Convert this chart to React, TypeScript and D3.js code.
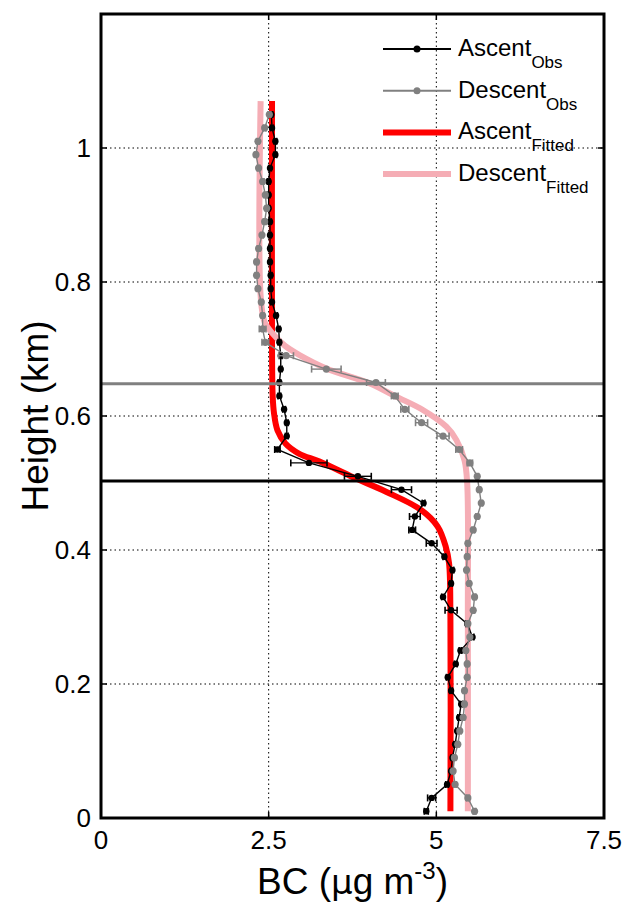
import React from 'react';
import * as d3 from 'd3';

// Observation heights (km)
const obsHeights = [
  0.01, 0.03, 0.05, 0.07, 0.09, 0.11, 0.13, 0.15, 0.17, 0.19,
  0.21, 0.23, 0.25, 0.27, 0.29, 0.31, 0.33, 0.35, 0.37, 0.39,
  0.41, 0.43, 0.45, 0.47, 0.49, 0.51, 0.53, 0.55, 0.57, 0.59,
  0.61, 0.63, 0.65, 0.67, 0.69, 0.71, 0.73, 0.75, 0.77, 0.79,
  0.81, 0.83, 0.85, 0.87, 0.89, 0.91, 0.93, 0.95, 0.97, 0.99,
  1.01, 1.03, 1.05,
];
const ascentBC = [
  4.85, 4.93, 5.16, 5.22, 5.24, 5.28, 5.31, 5.34, 5.37, 5.22,
  5.17, 5.29, 5.36, 5.54, 5.46, 5.22, 5.10, 5.22, 5.24, 5.12,
  4.93, 4.64, 4.68, 4.81, 4.48, 3.83, 3.10, 2.63, 2.77, 2.77,
  2.73, 2.66, 2.66, 2.68, 2.68, 2.66, 2.65, 2.61, 2.55, 2.53,
  2.53, 2.52, 2.52, 2.52, 2.52, 2.50, 2.50, 2.50, 2.52, 2.60,
  2.60, 2.55, 2.54,
];
const ascentErr = [
  0.03, 0.06, 0.02, 0.02, 0.02, 0.02, 0.02, 0.02, 0.02, 0.02,
  0.02, 0.02, 0.02, 0.02, 0.02, 0.09, 0.02, 0.02, 0.02, 0.02,
  0.08, 0.05, 0.08, 0.02, 0.15, 0.20, 0.27, 0.04, 0.02, 0.02,
  0.02, 0.02, 0.02, 0.02, 0.02, 0.02, 0.02, 0.02, 0.02, 0.02,
  0.02, 0.02, 0.02, 0.02, 0.02, 0.02, 0.02, 0.02, 0.02, 0.02,
  0.02, 0.02, 0.02,
];
const descentBC = [
  5.57, 5.47, 5.28, 5.25, 5.27, 5.32, 5.35, 5.40, 5.42, 5.42,
  5.46, 5.46, 5.44, 5.50, 5.47, 5.55, 5.57, 5.49, 5.45, 5.46,
  5.47, 5.55, 5.61, 5.67, 5.64, 5.61, 5.50, 5.34, 5.10, 4.78,
  4.53, 4.38, 4.10, 3.36, 2.76, 2.45, 2.41, 2.41, 2.39, 2.34,
  2.32, 2.32, 2.35, 2.40, 2.44, 2.47, 2.45, 2.41, 2.35, 2.31,
  2.34, 2.44, 2.51,
];
const descentErr = [
  0.02, 0.02, 0.02, 0.02, 0.02, 0.02, 0.02, 0.02, 0.02, 0.02,
  0.02, 0.02, 0.02, 0.02, 0.02, 0.02, 0.02, 0.02, 0.02, 0.02,
  0.02, 0.02, 0.02, 0.02, 0.02, 0.02, 0.04, 0.05, 0.09, 0.09,
  0.06, 0.05, 0.14, 0.22, 0.11, 0.05, 0.05, 0.02, 0.02, 0.02,
  0.02, 0.02, 0.02, 0.02, 0.02, 0.02, 0.02, 0.02, 0.02, 0.02,
  0.02, 0.02, 0.02,
];

// Fitted profiles
const ascentFitHeights = [0.01, 0.30, 0.38, 0.405, 0.435, 0.46, 0.487, 0.509, 0.532, 0.544, 0.559, 0.579, 0.604, 0.629, 0.70, 1.07];
const ascentFitBC = [5.21, 5.21, 5.19, 5.14, 5.02, 4.77, 4.25, 3.75, 3.26, 2.95, 2.75, 2.63, 2.58, 2.56, 2.55, 2.55];
const descentFitHeights = [0.01, 0.30, 0.50, 0.534, 0.564, 0.584, 0.609, 0.629, 0.649, 0.671, 0.691, 0.705, 0.723, 0.74, 0.78, 1.07];
const descentFitBC = [5.47, 5.47, 5.46, 5.42, 5.30, 5.15, 4.80, 4.40, 4.00, 3.36, 2.96, 2.74, 2.56, 2.44, 2.38, 2.38];

// Boundary layer heights (km)
const blhAscent = 0.503;
const blhDescent = 0.648;

const xTicks = [0, 2.5, 5, 7.5];
const xTickLabels = ['0', '2.5', '5', '7.5'];
const yTicks = [0, 0.2, 0.4, 0.6, 0.8, 1];
const yTickLabels = ['0', '0.2', '0.4', '0.6', '0.8', '1'];
const xGrid = [2.5, 5];
const yGrid = [0.2, 0.4, 0.6, 0.8, 1];

const legendItems = [
  { main: 'Ascent', sub: 'Obs', kind: 'obs', color: '#000000' },
  { main: 'Descent', sub: 'Obs', kind: 'obs', color: '#808080' },
  { main: 'Ascent', sub: 'Fitted', kind: 'fit', color: '#ff0000' },
  { main: 'Descent', sub: 'Fitted', kind: 'fit', color: '#f5adb5' },
];

const W = 632;
const H = 911;
const L = 101;
const R = 604;
const T = 14;
const B = 818;
const FONT = '"Liberation Sans", Arial, Helvetica, sans-serif';

export default function App() {
  const x = d3.scaleLinear().domain([0, 7.5]).range([L, R]);
  const y = d3.scaleLinear().domain([0, 1.2]).range([B, T]);

  const fitLine = d3
    .line<[number, number]>()
    .x((d) => x(d[0]))
    .y((d) => y(d[1]))
    .curve(d3.curveCatmullRom.alpha(0.5));
  const obsLine = d3
    .line<[number, number]>()
    .x((d) => x(d[0]))
    .y((d) => y(d[1]));

  const ascFit = ascentFitBC.map((v, i) => [v, ascentFitHeights[i]] as [number, number]);
  const desFit = descentFitBC.map((v, i) => [v, descentFitHeights[i]] as [number, number]);
  const ascObs = ascentBC.map((v, i) => [v, obsHeights[i]] as [number, number]);
  const desObs = descentBC.map((v, i) => [v, obsHeights[i]] as [number, number]);

  const tickLen = 6;
  const cap = 3.5;

  const renderObs = (data: [number, number][], errs: number[], color: string, r: number) => (
    <g>
      <path d={obsLine(data) || ''} fill="none" stroke={color} strokeWidth={1.4} />
      {data.map((d, i) => {
        const yy = y(d[1]);
        const x0 = x(d[0] - errs[i]);
        const x1 = x(d[0] + errs[i]);
        return (
          <g key={i}>
            <line x1={x0} x2={x1} y1={yy} y2={yy} stroke={color} strokeWidth={1.4} />
            <line x1={x0} x2={x0} y1={yy - cap} y2={yy + cap} stroke={color} strokeWidth={1.6} />
            <line x1={x1} x2={x1} y1={yy - cap} y2={yy + cap} stroke={color} strokeWidth={1.6} />
            <circle cx={x(d[0])} cy={yy} r={r} fill={color} />
          </g>
        );
      })}
    </g>
  );

  return (
    <svg width={W} height={H} style={{ position: 'absolute', left: 0, top: 0, background: '#fff' }} fontFamily={FONT}>
      <rect x={0} y={0} width={W} height={H} fill="#fff" />
      {/* grid */}
      {xGrid.map((v) => (
        <line key={'gx' + v} x1={x(v)} x2={x(v)} y1={T} y2={B} stroke="#000" strokeWidth={1} strokeDasharray="1.5,3" />
      ))}
      {yGrid.map((v) => (
        <line key={'gy' + v} x1={L} x2={R} y1={y(v)} y2={y(v)} stroke="#000" strokeWidth={1} strokeDasharray="1.5,3" />
      ))}

      {/* fitted profiles */}
      <path d={fitLine(ascFit) || ''} fill="none" stroke="#ff0000" strokeWidth={6} />
      <path d={fitLine(desFit) || ''} fill="none" stroke="#f5adb5" strokeWidth={6} />

      {/* observations */}
      {renderObs(ascObs, ascentErr, '#000000', 3.2)}
      {renderObs(desObs, descentErr, '#808080', 3.6)}

      {/* boundary layer lines */}
      <line x1={L} x2={R} y1={y(blhDescent)} y2={y(blhDescent)} stroke="#808080" strokeWidth={3} />
      <line x1={L} x2={R} y1={y(blhAscent)} y2={y(blhAscent)} stroke="#000" strokeWidth={3} />

      {/* ticks */}
      {xTicks.map((v) => (
        <g key={'tx' + v}>
          <line x1={x(v)} x2={x(v)} y1={B} y2={B - tickLen} stroke="#000" strokeWidth={1.5} />
          <line x1={x(v)} x2={x(v)} y1={T} y2={T + tickLen} stroke="#000" strokeWidth={1.5} />
        </g>
      ))}
      {yTicks.map((v) => (
        <g key={'ty' + v}>
          <line x1={L} x2={L + tickLen} y1={y(v)} y2={y(v)} stroke="#000" strokeWidth={1.5} />
          <line x1={R} x2={R - tickLen} y1={y(v)} y2={y(v)} stroke="#000" strokeWidth={1.5} />
        </g>
      ))}

      {/* axes box */}
      <rect x={L} y={T} width={R - L} height={B - T} fill="none" stroke="#000" strokeWidth={3} />

      {/* tick labels */}
      {xTicks.map((v, i) => (
        <text key={'lx' + v} x={x(v)} y={B + 31} textAnchor="middle" fontSize={26} fill="#000">
          {xTickLabels[i]}
        </text>
      ))}
      {yTicks.map((v, i) => (
        <text key={'ly' + v} x={L - 10} y={y(v) + 9} textAnchor="end" fontSize={26} fill="#000">
          {yTickLabels[i]}
        </text>
      ))}

      {/* axis labels */}
      <text x={(L + R) / 2} y={894} textAnchor="middle" fontSize={37} fill="#000">
        BC (
        <tspan fontFamily="'DejaVu Sans', sans-serif" fontSize={34}>μ</tspan>
        g m
        <tspan fontSize={24} dy={-15}>-3</tspan>
        <tspan dy={15}>)</tspan>
      </text>
      <text transform={`translate(48, ${(T + B) / 2}) rotate(-90)`} textAnchor="middle" fontSize={37} fill="#000">
        Height (km)
      </text>

      {/* legend */}
      {legendItems.map((it, i) => {
        const ly = 49 + i * 41.7;
        return (
          <g key={'lg' + i}>
            {it.kind === 'obs' ? (
              <g>
                <line x1={383} x2={451} y1={ly} y2={ly} stroke={it.color} strokeWidth={2} />
                <circle cx={417} cy={ly} r={3.5} fill={it.color} />
              </g>
            ) : (
              <line x1={383} x2={451} y1={ly} y2={ly} stroke={it.color} strokeWidth={6} />
            )}
            <text x={458} y={ly + 7} fontSize={24} fill="#000">
              {it.main}
              <tspan fontSize={17} dy={12}>{it.sub}</tspan>
            </text>
          </g>
        );
      })}
    </svg>
  );
}
